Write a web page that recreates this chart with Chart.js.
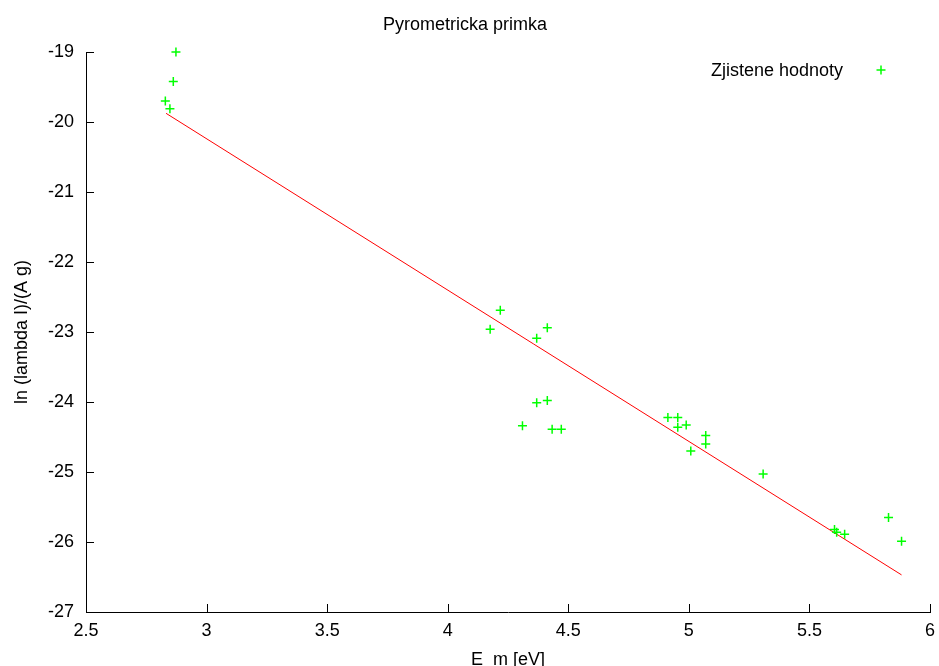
<!DOCTYPE html>
<html>
<head>
<meta charset="utf-8">
<script src="https://cdn.jsdelivr.net/npm/chart.js@4"></script>
<style>
html,body{margin:0;padding:0;background:#fff;}
#wrap{width:939px;height:666px;}
</style>
</head>
<body>
<div id="wrap"><canvas id="c" width="939" height="666"></canvas></div>
<script>
// Measured data points (E_m [eV], ln(lambda I)/(A g))
const pointsX = [2.873, 2.862, 2.829, 2.848,
  4.218, 4.176, 4.413, 4.369, 4.369, 4.413, 4.310, 4.433, 4.471,
  4.913, 4.954, 4.954, 4.989, 5.070, 5.070, 5.008, 5.308,
  5.604, 5.613, 5.646, 5.828, 5.882];
const pointsY = [-19.00, -19.42, -19.70, -19.81,
  -22.69, -22.96, -22.94, -23.09, -24.01, -23.98, -24.34, -24.39, -24.39,
  -24.22, -24.22, -24.36, -24.33, -24.48, -24.60, -24.70, -25.03,
  -25.82, -25.86, -25.89, -25.65, -25.99];
// Fitted line endpoints
const fitX = [2.832, 5.882];
const fitY = [-19.876, -26.47];
// Tick labels
const xTicks = [2.5, 3, 3.5, 4, 4.5, 5, 5.5, 6];
const yTicks = [-19, -20, -21, -22, -23, -24, -25, -26, -27];

const titleText = 'Pyrometricka primka';
const xLabel = 'E  m [eV]';
const yLabel = 'ln (lambda I)/(A g)';
const legendLabel = 'Zjistene hodnoty';

const FONT = "'Liberation Sans', Arial, sans-serif";
Chart.defaults.font.family = FONT;
Chart.defaults.font.size = 18;
Chart.defaults.color = '#000';

const GREEN = 'rgb(0,255,0)';
const RED = 'rgb(255,0,0)';

const scatterData = pointsX.map((x, i) => ({x: x, y: pointsY[i]}));
const lineData = fitX.map((x, i) => ({x: x, y: fitY[i]}));

const innerTicks = {
  id: 'innerTicks',
  afterDatasetsDraw(chart) {
    const ctx = chart.ctx;
    const xs = chart.scales.x, ys = chart.scales.y;
    const a = chart.chartArea;
    ctx.save();
    ctx.strokeStyle = '#000';
    ctx.lineWidth = 1;
    ctx.beginPath();
    xs.ticks.forEach(t => {
      const px = Math.round(xs.getPixelForValue(t.value)) + 0.5;
      ctx.moveTo(px, a.bottom);
      ctx.lineTo(px, a.bottom - 8);
    });
    ys.ticks.forEach(t => {
      const py = Math.round(ys.getPixelForValue(t.value)) + 0.5;
      ctx.moveTo(a.left, py);
      ctx.lineTo(a.left + 8, py);
    });
    ctx.stroke();
    // legend
    ctx.fillStyle = '#000';
    ctx.font = '18px ' + FONT;
    ctx.textAlign = 'right';
    ctx.textBaseline = 'middle';
    ctx.fillText(legendLabel, 843, 71);
    ctx.strokeStyle = GREEN;
    ctx.fillStyle = GREEN;
    ctx.lineWidth = 1.5;
    Chart.helpers.drawPoint(ctx, {pointStyle: 'cross', radius: 4.5, borderWidth: 1.5, rotation: 0}, 881, 70);
    ctx.restore();
  }
};

new Chart(document.getElementById('c'), {
  type: 'scatter',
  data: {
    datasets: [
      {
        type: 'line',
        label: 'fit',
        data: lineData,
        borderColor: RED,
        borderWidth: 1,
        pointRadius: 0,
        fill: false,
        clip: false,
        order: 2
      },
      {
        label: legendLabel,
        data: scatterData,
        pointStyle: 'cross',
        pointRadius: 4.5,
        pointHoverRadius: 4.5,
        borderColor: GREEN,
        backgroundColor: GREEN,
        pointBorderWidth: 1.5,
        clip: false,
        order: 1
      }
    ]
  },
  options: {
    responsive: false,
    animation: false,
    devicePixelRatio: 1,
    layout: {padding: {left: 0, right: 9, top: 0, bottom: 0}},
    plugins: {
      legend: {display: false},
      tooltip: {enabled: false},
      title: {
        display: true,
        text: titleText,
        color: '#000',
        font: {size: 18, weight: 'normal', family: FONT, lineHeight: 1.2},
        padding: {top: 14, bottom: 16.4}
      }
    },
    scales: {
      x: {
        type: 'linear',
        min: 2.5, max: 6,
        afterBuildTicks: s => { s.ticks = xTicks.map(v => ({value: v})); },
        afterFit: s => { s.height = 54; s.paddingRight = 0; s.paddingLeft = 0; },
        grid: {display: true, drawOnChartArea: false, drawTicks: false},
        border: {display: true, color: '#000', width: 1},
        ticks: {padding: 8, color: '#000', maxRotation: 0, autoSkip: false,
          callback: v => String(v)},
        title: {display: true, text: xLabel, color: '#000',
          font: {size: 18, family: FONT, lineHeight: 0.7}, padding: {top: 0, bottom: 0}}
      },
      y: {
        type: 'linear',
        min: -27, max: -19,
        afterBuildTicks: s => { s.ticks = yTicks.map(v => ({value: v})); },
        afterFit: s => { s.width = 86; s.paddingTop = 0; s.paddingBottom = 0; },
        grid: {display: true, drawOnChartArea: false, drawTicks: false},
        border: {display: true, color: '#000', width: 1},
        ticks: {padding: 12, color: '#000', autoSkip: false,
          callback: v => String(v)},
        title: {display: true, text: yLabel, color: '#000',
          font: {size: 18, family: FONT, lineHeight: 1.2}, padding: {top: 11, bottom: 0}}
      }
    }
  },
  plugins: [innerTicks]
});
</script>
</body>
</html>
